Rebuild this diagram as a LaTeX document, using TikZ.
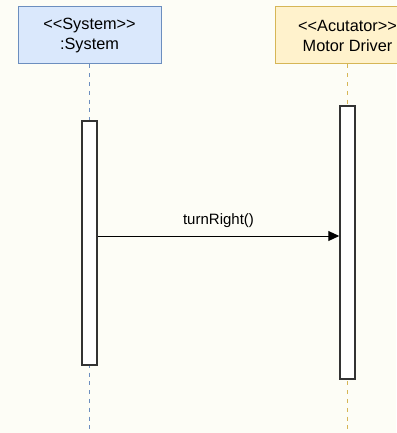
\documentclass[tikz,border=0pt]{standalone}
\usepackage{fontspec}
\setmainfont{Liberation Sans}[Ligatures=TeXOff]
\usetikzlibrary{arrows.meta}
\definecolor{bgcream}{HTML}{FDFDF6}
\definecolor{sysfill}{HTML}{DAE8FC}
\definecolor{sysline}{HTML}{6C8EBF}
\definecolor{actfill}{HTML}{FFF2CC}
\definecolor{actline}{HTML}{D6B656}
\definecolor{barline}{HTML}{333333}
\tikzset{
  x=1pt, y=-1pt,
  participant/.style={draw=#1, line width=1pt, minimum width=143pt, minimum height=57pt,
    inner sep=0pt, align=center, font=\fontsize{16.3}{20}\selectfont},
  lifeline/.style={draw=#1, line width=1.4pt, dash pattern=on 4pt off 4.8pt},
  activation/.style={draw=barline, fill=white, line width=1.5pt, minimum width=15pt, inner sep=0pt},
  message/.style={draw=black, line width=1pt, -{Triangle[length=11pt,width=10pt]}},
  msglabel/.style={font=\fontsize{15}{18}\selectfont, inner sep=0pt}
}
\begin{document}
\begin{tikzpicture}
  \useasboundingbox[fill=bgcream] (0,0) rectangle (396,433);

  % participants
  \node[participant=sysline, fill=sysfill] (sys) at (89.5,35.5) {<<System>>\\:System};
  \node[participant=actline, fill=actfill, minimum width=144pt] (drv) at (347.5,35.5) {<<Acutator>>\\Motor Driver};

  % lifeline ends
  \coordinate (sysEnd) at (89.5,433);
  \coordinate (drvEnd) at (347.5,433);
  \draw[lifeline=sysline] (sys.south) -- (sysEnd);
  \draw[lifeline=actline] (drv.south) -- (drvEnd);

  % activation bars
  \node[activation, minimum height=244pt] (sysbar) at (89.5,243) {};
  \node[activation, minimum height=273pt] (drvbar) at (347.5,242.5) {};

  % message
  \coordinate (msgStart) at (sysbar.east |- 0,236);
  \coordinate (msgEnd) at (drvbar.west |- 0,236);
  \draw[message] (msgStart) -- (msgEnd)
    node[msglabel, midway, above=8pt] (msg) {turnRight()};
\end{tikzpicture}
\end{document}
